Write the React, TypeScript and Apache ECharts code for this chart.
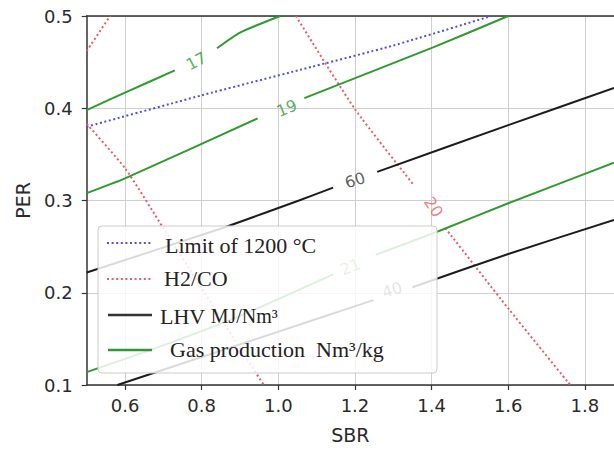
import React, { useEffect, useRef } from "react";
import * as echarts from "echarts";

// Axis ranges and tick labels
const xRange = [0.5, 1.876];
const yRange = [0.1, 0.5];
const xTicks = [0.6, 0.8, 1.0, 1.2, 1.4, 1.6, 1.8];
const yTicks = [0.1, 0.2, 0.3, 0.4, 0.5];

// Limit of 1200 °C (blue dotted)
const limit1200 = [[0.5, 0.38], [0.8, 0.414], [1.06, 0.442], [1.3, 0.468], [1.556, 0.5]];

// H2/CO contours (red dotted)
const h2coA = [[0.5, 0.462], [0.561, 0.5]];
const h2coB = [[0.5, 0.383], [0.6, 0.335], [0.7, 0.27], [0.8, 0.205], [0.9, 0.14], [0.962, 0.1]];
const h2co20a = [[1.046, 0.5], [1.2, 0.399], [1.353, 0.317]];
const h2co20b = [[1.436, 0.27], [1.6, 0.183], [1.756, 0.103], [1.762, 0.1]];

// LHV contours (black)
const lhv60a = [[0.5, 0.222], [0.839, 0.268], [1.054, 0.3], [1.143, 0.314]];
const lhv60b = [[1.258, 0.331], [1.602, 0.382], [1.876, 0.422]];
const lhv40a = [[0.58, 0.1], [0.9, 0.144], [1.248, 0.192]];
const lhv40b = [[1.35, 0.206], [1.6, 0.242], [1.876, 0.279]];

// Gas production contours (green)
const gas17a = [[0.5, 0.398], [0.6, 0.417], [0.73, 0.441]];
const gas17b = [[0.84, 0.465], [0.9, 0.482], [1.005, 0.5]];
const gas19a = [[0.5, 0.308], [0.6, 0.324], [0.946, 0.389]];
const gas19b = [[1.068, 0.411], [1.404, 0.466], [1.6, 0.5]];
const gas21a = [[0.5, 0.114], [0.7, 0.143], [0.9, 0.175], [1.143, 0.22]];
const gas21b = [[1.254, 0.241], [1.426, 0.268], [1.6, 0.297], [1.876, 0.341]];

// Contour labels: [x, y, text, angle]
const gasLabels: [number, number, string, number][] = [
  [0.786, 0.451, "17", 27],
  [1.022, 0.4, "19", 23],
  [1.188, 0.228, "21", 22],
];
const lhvLabels: [number, number, string, number][] = [
  [1.2, 0.322, "60", 18],
  [1.297, 0.203, "40", 18],
];
const h2coLabels: [number, number, string, number][] = [[1.405, 0.293, "20", -57]];

const BLUE = "#4f4fe0";
const RED = "#e65c66";
const BLACK = "#1c1c1c";
const GREEN = "#2f9a32";
const DOT = [2, 2.6];

export default function App() {
  const ref = useRef<HTMLDivElement>(null);
  useEffect(() => {
    document.body.style.margin = "0";
    const chart = echarts.init(ref.current!, null, { renderer: "svg" });
    const line = (name: string, data: number[][], color: string, dotted: boolean) => ({
      type: "line",
      name,
      data,
      showSymbol: false,
      symbol: "none",
      smooth: 0.2,
      silent: true,
      lineStyle: { color, width: 2, type: dotted ? DOT : "solid", cap: "butt" },
      z: 2,
    });
    const labels = (items: [number, number, string, number][], color: string) => ({
      type: "scatter",
      silent: true,
      symbolSize: 2,
      itemStyle: { color: "rgba(0,0,0,0)" },
      z: 3,
      data: items.map(([x, y, t, a]) => ({
        value: [x, y],
        label: {
          show: true,
          position: "inside",
          formatter: t,
          rotate: a,
          color,
          fontSize: 16,
          fontFamily: "DejaVu Sans",
        },
      })),
    });
    const axisFont = { fontFamily: "DejaVu Sans", fontSize: 18, color: "#2a2a2a" };
    const legendX1 = 107;
    const legendX2 = 151;
    chart.setOption({
      animation: false,
      backgroundColor: "#fff",
      grid: { left: 86.7, right: 0, top: 16, bottom: 65, containLabel: false },
      xAxis: [
        {
          type: "value",
          min: xRange[0],
          max: xRange[1],
          position: "bottom",
          name: "SBR",
          nameLocation: "middle",
          nameGap: 40,
          nameTextStyle: { fontFamily: "DejaVu Sans", fontSize: 19, color: "#2a2a2a" },
          axisLine: { show: true, lineStyle: { color: "#333", width: 1.5 } },
          axisTick: { show: true, inside: false, length: 5, customValues: xTicks, lineStyle: { color: "#333", width: 1.2 } },
          axisLabel: { ...axisFont, margin: 11, customValues: xTicks, formatter: (v: number) => v.toFixed(1) },
          splitLine: { show: true, lineStyle: { color: "#cfcfcf", width: 1 } },
        },
        {
          type: "value",
          min: xRange[0],
          max: xRange[1],
          position: "top",
          axisLine: { show: true, lineStyle: { color: "#333", width: 1.5 } },
          axisTick: { show: false },
          axisLabel: { show: false },
          splitLine: { show: false },
        },
      ],
      yAxis: {
        type: "value",
        min: yRange[0],
        max: yRange[1],
        interval: 0.1,
        name: "PER",
        nameLocation: "middle",
        nameGap: 54,
        nameRotate: 90,
        nameTextStyle: { fontFamily: "DejaVu Sans", fontSize: 19, color: "#2a2a2a" },
        axisLine: { show: true, lineStyle: { color: "#333", width: 1.5 } },
        axisTick: { show: true, inside: false, length: 5, lineStyle: { color: "#333", width: 1.2 } },
        axisLabel: { ...axisFont, margin: 14, formatter: (v: number) => v.toFixed(1) },
        splitLine: { show: true, lineStyle: { color: "#cfcfcf", width: 1 } },
      },
      series: [
        line("Limit of 1200 °C", limit1200, BLUE, true),
        line("H2/CO", h2coA, RED, true),
        line("H2/CO", h2coB, RED, true),
        line("H2/CO", h2co20a, RED, true),
        line("H2/CO", h2co20b, RED, true),
        line("LHV", lhv60a, BLACK, false),
        line("LHV", lhv60b, BLACK, false),
        line("LHV", lhv40a, BLACK, false),
        line("LHV", lhv40b, BLACK, false),
        line("Gas production", gas17a, GREEN, false),
        line("Gas production", gas17b, GREEN, false),
        line("Gas production", gas19a, GREEN, false),
        line("Gas production", gas19b, GREEN, false),
        line("Gas production", gas21a, GREEN, false),
        line("Gas production", gas21b, GREEN, false),
        labels(gasLabels, GREEN),
        labels(lhvLabels, "#333"),
        labels(h2coLabels, RED),
      ],
      graphic: [
        {
          type: "rect",
          z: 100,
          silent: true,
          shape: { x: 98, y: 226, width: 339, height: 147, r: 4 },
          style: { fill: "rgba(255,255,255,0.84)", stroke: "#cccccc", lineWidth: 1 },
        },
        { type: "line", z: 101, silent: true, shape: { x1: legendX1, y1: 243, x2: legendX2, y2: 243 }, style: { stroke: BLUE, lineWidth: 2, lineDash: DOT } },
        { type: "line", z: 101, silent: true, shape: { x1: legendX1, y1: 279, x2: legendX2, y2: 279 }, style: { stroke: RED, lineWidth: 2, lineDash: DOT } },
        { type: "line", z: 101, silent: true, shape: { x1: 108, y1: 315, x2: 152, y2: 315 }, style: { stroke: "#333", lineWidth: 2.5 } },
        { type: "line", z: 101, silent: true, shape: { x1: 108, y1: 350, x2: 152, y2: 350 }, style: { stroke: GREEN, lineWidth: 2.5 } },
        {
          type: "text", z: 101, silent: true, x: 165, y: 245,
          style: { text: "Limit of 1200 °C", fontFamily: "Liberation Serif", fontSize: 22, fill: "#222", verticalAlign: "middle" },
        },
        {
          type: "text", z: 101, silent: true, x: 164, y: 278,
          style: { text: "H2/CO", fontFamily: "Liberation Serif", fontSize: 22, fill: "#222", verticalAlign: "middle" },
        },
        {
          type: "text", z: 101, silent: true, x: 160, y: 316,
          style: {
            text: "{a|LHV }{b|MJ/Nm³}",
            fontFamily: "Liberation Serif", fontSize: 22, fill: "#222", verticalAlign: "middle",
            rich: {
              a: { fontFamily: "Liberation Serif", fontSize: 22, fill: "#222" },
              b: { fontFamily: "Liberation Serif", fontSize: 20, fill: "#222" },
            },
          },
        },
        {
          type: "text", z: 101, silent: true, x: 170, y: 349,
          style: { text: "Gas production  Nm³/kg", fontFamily: "Liberation Serif", fontSize: 22, fill: "#222", verticalAlign: "middle" },
        },
      ],
    });
    return () => chart.dispose();
  }, []);
  return <div ref={ref} style={{ position: "fixed", left: 0, top: 0, width: 614, height: 450 }} />;
}
